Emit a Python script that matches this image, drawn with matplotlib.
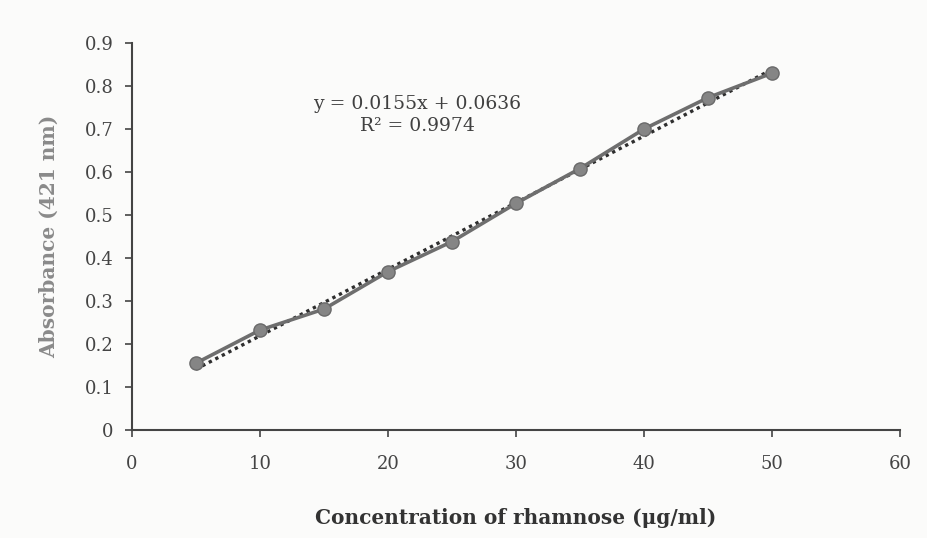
import matplotlib
matplotlib.use("Agg")
import matplotlib.pyplot as plt
import numpy as np

conc = [5, 10, 15, 20, 25, 30, 35, 40, 45, 50]
absorb = [0.155, 0.232, 0.281, 0.368, 0.438, 0.527, 0.608, 0.700, 0.773, 0.830]
slope, intercept = 0.0155, 0.0636
eq_text = "y = 0.0155x + 0.0636\nR² = 0.9974"
xticks = [0, 10, 20, 30, 40, 50, 60]
yticks = [0, 0.1, 0.2, 0.3, 0.4, 0.5, 0.6, 0.7, 0.8, 0.9]
ytick_labels = ["0", "0.1", "0.2", "0.3", "0.4", "0.5", "0.6", "0.7", "0.8", "0.9"]

plt.rcParams['font.family'] = ['DejaVu Serif']

fig = plt.figure(figsize=(9.28, 5.38), dpi=100, facecolor='#fbfbfa')
ax = fig.add_axes([0.142, 0.201, 0.828, 0.719])
ax.set_facecolor('#fbfbfa')

ax.plot(conc, absorb, color='#6e6e6e', lw=2.6, marker='o', ms=9.5,
        mfc='#858585', mec='#6a6a6a', mew=1, zorder=3)
fit = [slope * c + intercept for c in conc]
ax.plot(conc, fit, color='#2e2e2e', lw=2.4, ls=(0, (1, 1.2)), zorder=2)

ax.set_xlim(0, 60)
ax.set_ylim(0, 0.9)
ax.set_xticks(xticks)
ax.set_yticks(yticks)
ax.set_yticklabels(ytick_labels)
for s in ['top', 'right']:
    ax.spines[s].set_visible(False)
for s in ['left', 'bottom']:
    ax.spines[s].set_color('#444444')
    ax.spines[s].set_linewidth(1.5)
ax.tick_params(axis='both', direction='out', length=5, width=1.2, color='#444444',
               labelsize=13, labelcolor='#444444')
ax.tick_params(axis='x', pad=13)
ax.tick_params(axis='y', pad=8)

ax.text(22.3, 0.733, eq_text, ha='center', va='center', fontsize=13.5,
        color='#404040', linespacing=1.3)

ax.set_ylabel("Absorbance (421 nm)", fontsize=14.5, fontweight='bold',
              color='#8a8a8a', labelpad=19)
ax.set_xlabel("Concentration of rhamnose (μg/ml)", fontsize=14.5, fontweight='bold',
              color='#333333', labelpad=25)

fig.savefig("out.png", dpi=100, facecolor=fig.get_facecolor())
